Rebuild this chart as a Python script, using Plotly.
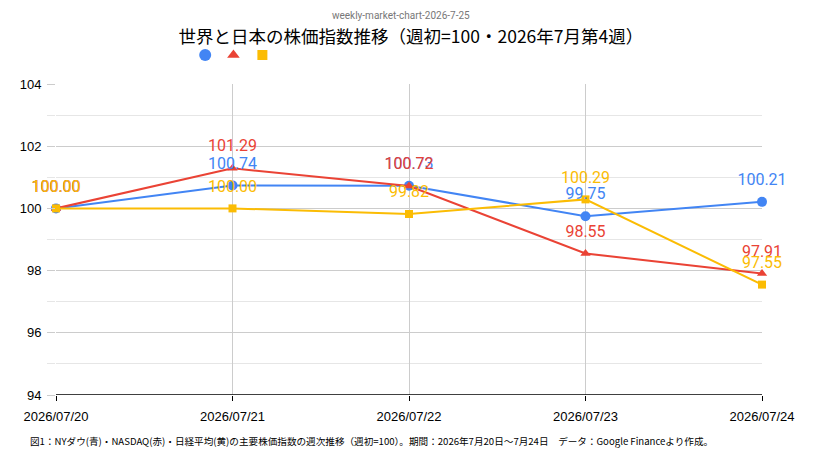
import plotly.graph_objects as go

# 週次データ（週初=100）
dates = ["2026/07/20", "2026/07/21", "2026/07/22", "2026/07/23", "2026/07/24"]
nydow = [100.00, 100.74, 100.73, 99.75, 100.21]
nasdaq = [100.00, 101.29, 100.72, 98.55, 97.91]
nikkei = [100.00, 100.00, 99.82, 100.29, 97.55]

series = [
    ("NYダウ", nydow, "#4285F4", "circle", 10),
    ("NASDAQ", nasdaq, "#EA4335", "triangle-up", 9),
    ("日経平均", nikkei, "#FBBC04", "square", 8),
]
legend_ids = ["legend", "legend2", "legend3"]
legend_x = [0.183, 0.223, 0.264]

fig = go.Figure()
for (name, values, color, symbol, size), lg in zip(series, legend_ids):
    fig.add_trace(
        go.Scatter(
            x=dates,
            y=values,
            mode="lines+markers",
            name=name,
            line=dict(color=color, width=2),
            marker=dict(color=color, symbol=symbol, size=size),
            showlegend=False,
            cliponaxis=False,
        )
    )
    # legend only: markers without text
    fig.add_trace(
        go.Scatter(
            x=[None],
            y=[None],
            mode="markers",
            name=" ",
            marker=dict(color=color, symbol=symbol, size=size + 2),
            showlegend=True,
            legend=lg,
        )
    )

# data labels drawn last; transparent markers push the text up a bit
for name, values, color, symbol, size in series:
    fig.add_trace(
        go.Scatter(
            x=dates,
            y=values,
            mode="markers+text",
            name=name,
            marker=dict(color=color, size=19, opacity=0),
            texttemplate="%{y:.2f}",
            textposition="top center",
            textfont=dict(family="Roboto", size=16, color=color),
            showlegend=False,
            hoverinfo="skip",
            cliponaxis=False,
        )
    )

legend_style = dict(
    orientation="h",
    y=1.093,
    xanchor="left",
    yanchor="middle",
    itemwidth=30,
    font=dict(size=1),
    bgcolor="rgba(0,0,0,0)",
)

# page body has an 8px margin, so the figure is 8px smaller each way
fig.update_layout(
    width=814,
    height=460,
    margin=dict(l=48, r=60, t=76, b=73, autoexpand=False),
    paper_bgcolor="white",
    plot_bgcolor="white",
    font=dict(family="Liberation Sans, Arial", size=13, color="#222222"),
    title=dict(
        text="世界と日本の株価指数推移（週初=100・2026年7月第4週）",
        font=dict(family="Noto Sans CJK JP", size=17.5, color="#000000"),
        x=0.495,
        xanchor="center",
        y=0.937,
        yanchor="middle",
    ),
    legend=dict(legend_style, x=legend_x[0]),
    legend2=dict(legend_style, x=legend_x[1]),
    legend3=dict(legend_style, x=legend_x[2]),
    annotations=[
        dict(
            text="weekly-market-chart-2026-7-25",
            xref="paper",
            yref="paper",
            x=0.489,
            y=1.219,
            xanchor="center",
            yanchor="middle",
            showarrow=False,
            font=dict(family="Roboto", size=10, color="#777777"),
        ),
        dict(
            text="図1：NYダウ(青)・NASDAQ(赤)・日経平均(黄)の主要株価指数の週次推移（週初=100）。期間：2026年7月20日～7月24日　データ：Google Financeより作成。",
            xref="paper",
            yref="paper",
            x=-0.040,
            y=-0.148,
            xanchor="left",
            yanchor="middle",
            showarrow=False,
            font=dict(family="Noto Sans CJK JP", size=9.6, color="#000000"),
        ),
    ],
)

fig.update_xaxes(
    type="category",
    range=[0, 4],
    automargin=False,
    showgrid=True,
    gridcolor="#cccccc",
    gridwidth=1,
    showline=False,
    ticks="outside",
    ticklen=5,
    tickcolor="#000000",
    ticklabelstandoff=4,
    tickfont=dict(family="Liberation Sans", size=13, color="#000000"),
    zeroline=False,
)
fig.update_yaxes(
    range=[94, 104],
    dtick=2,
    automargin=False,
    showgrid=True,
    gridcolor="#cccccc",
    ticks="outside",
    ticklen=8,
    tickcolor="#cccccc",
    ticklabelstandoff=3,
    minor=dict(dtick=1, showgrid=True, gridcolor="#e6e6e6", ticks="outside", ticklen=8, tickcolor="#e6e6e6"),
    tickfont=dict(family="Liberation Sans", size=13, color="#000000"),
    zeroline=False,
    showline=False,
)

# 下端の軸線（黒）
fig.add_hline(y=94, line=dict(color="#000000", width=1.5))

fig.write_html("out.html")
